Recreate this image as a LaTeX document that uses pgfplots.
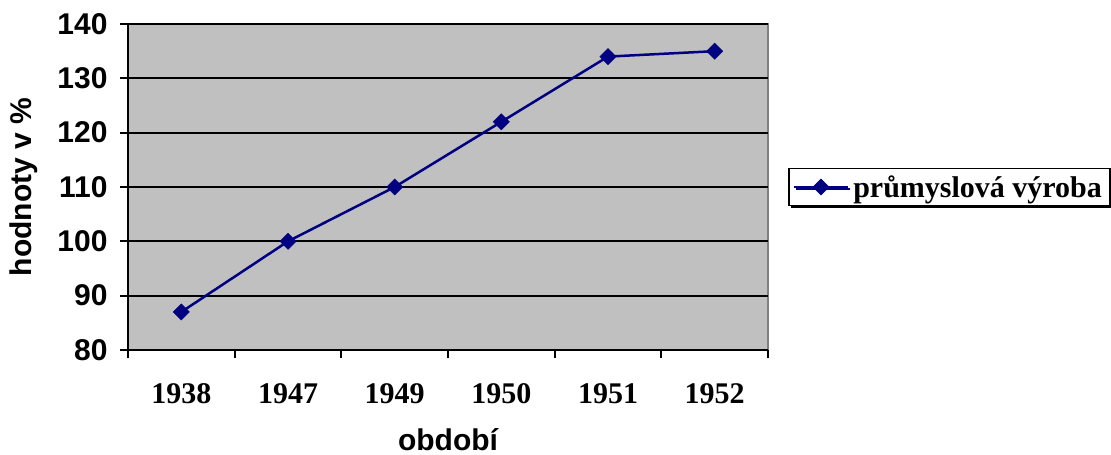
\documentclass[border=0pt]{standalone}
\usepackage{fontspec}
\setmainfont{Liberation Serif}
\setsansfont{Liberation Sans}
\usepackage{pgfplots}
\pgfplotsset{compat=1.18}
\usetikzlibrary{shadows}
\definecolor{plotgray}{HTML}{C0C0C0}
\definecolor{navyblue}{HTML}{000080}
\definecolor{bordergray}{HTML}{808080}
\begin{document}
\begin{tikzpicture}[x=1pt,y=1pt]
\path[use as bounding box] (0,0) rectangle (1111,455);
\begin{axis}[
  at={(128pt,105pt)}, anchor=south west,
  width=640pt, height=326pt, scale only axis,
  xmin=-0.5, xmax=5.5, ymin=80, ymax=140,
  ytick={80,90,...,140},
  xtick={-0.5,0.5,1.5,2.5,3.5,4.5,5.5},
  xticklabels={},
  extra x ticks={0,1,2,3,4,5},
  extra x tick labels={1938,1947,1949,1950,1951,1952},
  extra x tick style={major tick length=0pt, grid=none},
  axis lines=left,
  axis line style={-, black, line width=2pt},
  axis background/.style={fill=plotgray, draw=bordergray, line width=2pt},
  tick align=outside,
  major tick length=8pt,
  tick style={black, line width=2pt},
  ymajorgrids, xmajorgrids=false,
  major grid style={black, line width=1.8pt},
  /pgf/number format/assume math mode=true,
  yticklabel style={font=\sffamily\bfseries\fontsize{30}{34}\selectfont, xshift=-9pt},
  xticklabel style={font=\rmfamily\bfseries\fontsize{30}{34}\selectfont, yshift=-30pt},
  ylabel={hodnoty v \%},
  ylabel style={font=\sffamily\bfseries\fontsize{30}{34}\selectfont,
    at={(axis description cs:0,0.5)}, anchor=center, yshift=104pt},
  xlabel={období},
  xlabel style={font=\sffamily\bfseries\fontsize{30}{34}\selectfont,
    at={(axis description cs:0.5,0)}, anchor=center, yshift=-90pt},
  legend style={at={(1,0.5)}, anchor=west, xshift=20pt, draw=black, line width=1.5pt,
    font=\rmfamily\bfseries\fontsize{30}{34}\selectfont, inner xsep=4pt, inner ysep=5pt,
    drop shadow={shadow xshift=2pt, shadow yshift=-2pt, fill=black, opacity=1},
    nodes={inner xsep=4pt}},
  legend image code/.code={\draw[mark repeat=2,mark phase=2,#1] plot coordinates {(0pt,0pt) (27pt,0pt) (54pt,0pt)};},
]
\addplot[navyblue, line width=2.5pt, mark=square*, mark size=5.7pt, mark options={rotate=45, solid, line width=0.5pt, fill=navyblue}]
  coordinates {(0,87) (1,100) (2,110) (3,122) (4,134) (5,135)};
\addlegendentry{průmyslová výroba}
\end{axis}
\end{tikzpicture}
\end{document}
